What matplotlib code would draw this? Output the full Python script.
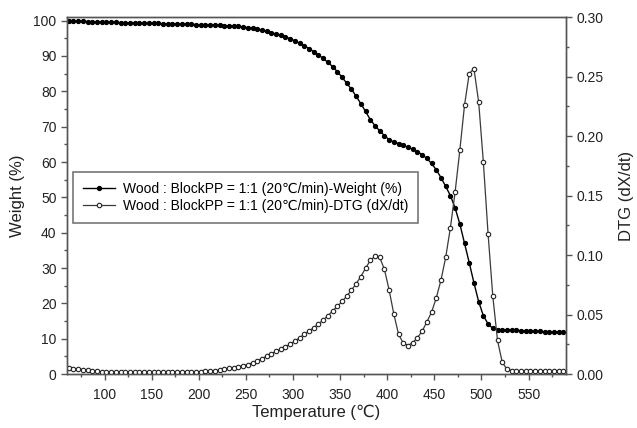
import matplotlib
matplotlib.use("Agg")
import matplotlib.pyplot as plt
from matplotlib.ticker import MultipleLocator

plt.rcParams['font.family'] = ['Liberation Sans', 'DejaVu Sans']

# temperature grid (every 5 degC)
temperature = list(range(62, 588, 5))

weight = [
    100.0, 99.9, 99.85, 99.8, 99.75, 99.7, 99.65, 99.6, 99.55, 99.5,
    99.5, 99.45, 99.4, 99.4, 99.35, 99.3, 99.3, 99.25, 99.2, 99.2,
    99.15, 99.1, 99.1, 99.05, 99.0, 99.0, 98.95, 98.9, 98.85, 98.8,
    98.75, 98.7, 98.65, 98.6, 98.55, 98.45, 98.35, 98.2, 98.05, 97.85,
    97.6, 97.3, 96.95, 96.6, 96.2, 95.8, 95.4, 94.9, 94.3, 93.6,
    92.9, 92.1, 91.2, 90.3, 89.3, 88.2, 87.0, 85.6, 84.0, 82.3,
    80.6, 78.6, 76.5, 74.3, 72.0, 70.3, 68.8, 67.5, 66.3, 65.7,
    65.2, 64.7, 64.2, 63.6, 62.9, 62.1, 61.0, 59.6, 57.8, 55.6,
    53.1, 50.5, 47.0, 42.5, 37.0, 31.5, 25.8, 20.5, 16.5, 14.2,
    12.9, 12.6, 12.5, 12.45, 12.4, 12.35, 12.3, 12.2, 12.15, 12.1,
    12.05, 12.0, 11.95, 11.9, 11.85, 11.8,
]

dtg = [
    0.0050, 0.0045, 0.0042, 0.0038, 0.0035, 0.0028, 0.0022, 0.0018, 0.0016, 0.0015,
    0.0015, 0.0015, 0.0015, 0.0015, 0.0015, 0.0015, 0.0015, 0.0015, 0.0015, 0.0016,
    0.0016, 0.0016, 0.0017, 0.0017, 0.0018, 0.0018, 0.0019, 0.0020, 0.0021, 0.0023,
    0.0026, 0.0030, 0.0034, 0.0040, 0.0047, 0.0055, 0.0063, 0.0070, 0.0080, 0.0095,
    0.0112, 0.0130, 0.0150, 0.0170, 0.0190, 0.0210, 0.0230, 0.0252, 0.0278, 0.0305,
    0.0335, 0.0362, 0.0390, 0.0420, 0.0455, 0.0490, 0.0530, 0.0568, 0.0610, 0.0655,
    0.0705, 0.0760, 0.0820, 0.0890, 0.0955, 0.0990, 0.0980, 0.0880, 0.0706, 0.0503,
    0.0334, 0.0260, 0.0240, 0.0265, 0.0305, 0.0360, 0.0438, 0.0520, 0.0640, 0.0790,
    0.0980, 0.1230, 0.1530, 0.1880, 0.2260, 0.2526, 0.2566, 0.2287, 0.1780, 0.1177,
    0.0655, 0.0283, 0.0100, 0.0040, 0.0030, 0.0028, 0.0027, 0.0027, 0.0026, 0.0026,
    0.0026, 0.0025, 0.0025, 0.0025, 0.0025, 0.0025,
]

label_w = "Wood : BlockPP = 1:1 (20\u2103/min)-Weight (%)"
label_d = "Wood : BlockPP = 1:1 (20\u2103/min)-DTG (dX/dt)"

fig = plt.figure(figsize=(6.37, 4.28), dpi=100)
ax = fig.add_axes([0.105, 0.126, 0.784, 0.834])
ax2 = ax.twinx()

l1, = ax.plot(temperature, weight, color='black', lw=1.0, marker='o',
              markersize=2.8, markerfacecolor='black', markeredgecolor='black',
              label=label_w, zorder=3)
l2, = ax2.plot(temperature, dtg, color='#3a3a3a', lw=0.9, marker='o',
               markersize=3.2, markerfacecolor='white', markeredgecolor='#222222',
               markeredgewidth=0.8, label=label_d)

ax.set_xlim(60, 590)
ax.set_ylim(0, 101)
ax2.set_ylim(0, 0.3)

ax.xaxis.set_major_locator(MultipleLocator(50))
ax.xaxis.set_minor_locator(MultipleLocator(25))
ax.yaxis.set_major_locator(MultipleLocator(10))
ax.yaxis.set_minor_locator(MultipleLocator(5))
ax2.yaxis.set_major_locator(MultipleLocator(0.05))
ax2.yaxis.set_minor_locator(MultipleLocator(0.025))
ax2.yaxis.set_major_formatter(plt.FormatStrFormatter('%.2f'))

spine_col = '#555555'
for a in (ax, ax2):
    for s in a.spines.values():
        s.set_color(spine_col)
        s.set_linewidth(1.0)
    a.tick_params(which='major', direction='out', length=4, width=1,
                  color=spine_col, labelsize=10, labelcolor='#222222')
    a.tick_params(which='minor', direction='out', length=2.5, width=1,
                  color=spine_col)
ax.tick_params(axis='x', pad=6)

ax.set_xlabel("Temperature (\u2103)", fontsize=12, color='#222222', labelpad=2)
ax.set_ylabel("Weight (%)", fontsize=12, color='#222222', labelpad=6)
ax2.set_ylabel("DTG (dX/dt)", fontsize=12, color='#222222', labelpad=11)

leg = ax.legend(handles=[l1, l2], loc='upper left',
                bbox_to_anchor=(0.012, 0.566),
                fontsize=10, frameon=True, fancybox=False, borderpad=0.7,
                handlelength=2.3, handletextpad=0.6, labelspacing=0.25,
                borderaxespad=0)
leg.get_frame().set_edgecolor('#555555')
leg.get_frame().set_linewidth(1.2)
leg.set_zorder(5)

fig.savefig("out.png", dpi=100)
